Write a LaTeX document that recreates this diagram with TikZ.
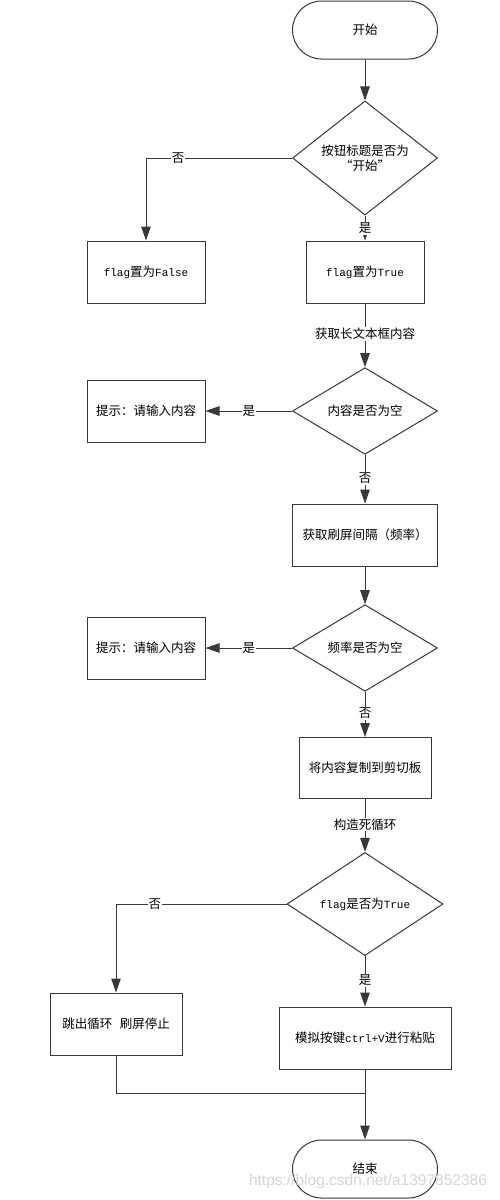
\documentclass[tikz,border=0pt]{standalone}
\usepackage{fontspec}
\setmainfont{Noto Sans CJK SC}
\newfontfamily\mono{Liberation Mono}
\newfontfamily\wmfont{Liberation Sans}
\usetikzlibrary{shapes.geometric,arrows.meta}
\definecolor{ln}{HTML}{383838}
\tikzset{
  base/.style={draw=ln, line width=1pt, font=\fontsize{12.5}{15}\selectfont, align=center, text=black, inner sep=0pt},
  term/.style={base, rectangle, rounded corners=29pt, minimum width=145pt, minimum height=58pt},
  proc/.style={base, rectangle, minimum height=62pt},
  dec/.style={base, diamond, minimum width=145pt, minimum height=86pt},
  conn/.style={draw=ln, line width=1pt},
  arr/.style={conn, -{Triangle[length=14pt,width=9.5pt]}},
  lbl/.style={fill=white, inner sep=1pt, text=black, font=\fontsize{12.5}{15}\selectfont}
}
\begin{document}
\begin{tikzpicture}[x=1pt,y=-1pt]
\useasboundingbox (0,0) rectangle (500,1200);
\fill[white] (0,0) rectangle (500,1200);
% nodes
\node[term] (start) at (365,30) {开始};
\node[dec] (d1) at (365,158) {按钮标题是否为\\“开始”};
\node[proc, minimum width=118pt] (ffalse) at (146,272) {{\mono\fontsize{11}{13}\selectfont flag}置为{\mono\fontsize{11}{13}\selectfont False}};
\node[proc, minimum width=118pt] (ftrue) at (365,272) {{\mono\fontsize{11}{13}\selectfont flag}置为{\mono\fontsize{11}{13}\selectfont True}};
\node[dec] (d2) at (365,411) {内容是否为空};
\node[proc, minimum width=118pt] (p1) at (146,411) {提示：请输入内容};
\node[proc, minimum width=145pt] (gi) at (365,535) {获取刷屏间隔（频率）};
\node[dec] (d3) at (365,648) {频率是否为空};
\node[proc, minimum width=118pt] (p2) at (146,648) {提示：请输入内容};
\node[proc, minimum width=132pt, minimum height=61pt] (cp) at (365,768) {将内容复制到剪切板};
\node[dec, minimum width=156pt, minimum height=94pt] (d4) at (365,904) {{\mono\fontsize{11}{13}\selectfont flag}是否为{\mono\fontsize{11}{13}\selectfont True}};
\node[proc, minimum width=132pt] (jump) at (116,1024) {跳出循环\hspace{0.6em}刷屏停止};
\node[proc, minimum width=172pt] (sim) at (365,1038) {模拟按键{\mono\fontsize{11}{13}\selectfont ctrl+V}进行粘贴};
\node[term] (end) at (365,1169) {结束};
\coordinate (m) at (365,1093);
% connectors
\draw[arr] (start.south) -- (d1.north);
\draw[arr] (d1.west) -| node[lbl, pos=0.39] {否} (ffalse.north);
\draw[arr] (d1.south) -- node[lbl, pos=0.5] {是} (ftrue.north);
\draw[arr] (ftrue.south) -- node[lbl, pos=0.48] {获取长文本框内容} (d2.north);
\draw[arr] (d2.west) -- node[lbl, pos=0.5] {是} (p1.east);
\draw[arr] (d2.south) -- node[lbl, pos=0.48] {否} (gi.north);
\draw[arr] (gi.south) -- (d3.north);
\draw[arr] (d3.west) -- node[lbl, pos=0.5] {是} (p2.east);
\draw[arr] (d3.south) -- node[lbl, pos=0.48] {否} (cp.north);
\draw[arr] (cp.south) -- node[lbl, pos=0.48] {构造死循环} (d4.north);
\draw[arr] (d4.west) -| node[lbl, pos=0.386] {否} (jump.north);
\draw[arr] (d4.south) -- node[lbl, pos=0.48] {是} (sim.north);
\draw[conn] (jump.south) |- (m);
\draw[arr] (sim.south) -- (end.north);
% watermark
\node[text=black!16, font=\wmfont\fontsize{15.5}{18}\selectfont, inner sep=0pt] (wm) at (368,1181) {https://blog.csdn.net/a1397852386};
\end{tikzpicture}
\end{document}
